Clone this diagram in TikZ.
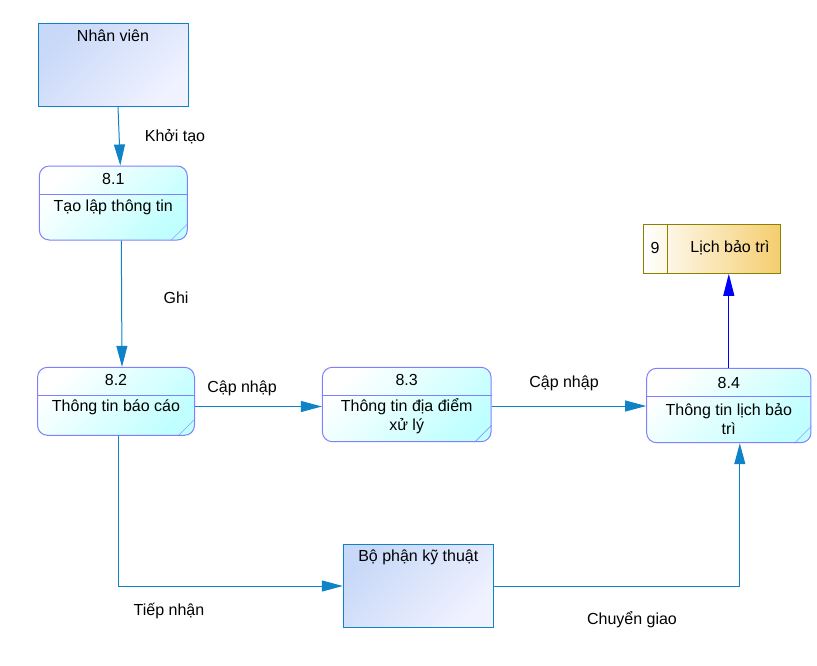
\documentclass[tikz,border=0pt]{standalone}
\usepackage{fontspec}
\setmainfont{Liberation Sans}
\usetikzlibrary{arrows.meta}
\definecolor{flowblue}{RGB}{16,130,200}
\definecolor{procline}{RGB}{128,128,255}
\definecolor{procfill}{RGB}{192,255,255}
\definecolor{enttop}{RGB}{200,216,248}
\definecolor{entbot}{RGB}{240,242,255}
\definecolor{storeline}{RGB}{140,128,0}
\definecolor{storefill}{RGB}{245,205,110}
\tikzset{
  proc/.style={draw=procline, line width=1pt, rounded corners=10pt, top color=white, bottom color=procfill, shading angle=45},
  entity/.style={draw=flowblue, line width=1pt, top color=enttop, bottom color=entbot, shading angle=45},
  store/.style={draw=storeline, line width=1pt, left color=white, right color=storefill},
  flow/.style={flowblue, line width=1pt, -{Triangle[length=21pt,width=11pt]}},
  storeflow/.style={blue, line width=1pt, -{Triangle[length=22pt,width=11pt]}}
}
\begin{document}
\begin{tikzpicture}[x=1pt, y=-1pt, font=\fontsize{16}{19}\selectfont]
        \useasboundingbox (0,0) rectangle (817,665);

        % external entities
        \node[entity, minimum width=150pt, minimum height=83pt] (nv) at (113,65) {};
        \node (nvtext) at (113,36) {Nhân viên};
        \node[entity, minimum width=150pt, minimum height=83pt] (bp) at (418.3,586) {};
        \node (bptext) at (418.3,557) {Bộ phận kỹ thuật};

        % processes
        \node[proc, minimum width=148pt, minimum height=74pt] (n81) at (113.3,203) {};
        \node (n81num) at (113.3,179) {8.1};
        \node (n81txt) at (113.3,207) {Tạo lập thông tin};
        \draw[procline] (n81.west |- 0,194) -- (n81.east |- 0,194);
        \draw[procline] ([xshift=-17pt]n81.south east) -- ([yshift=17pt]n81.south east);

        \node[proc, minimum width=157pt, minimum height=68pt] (n82) at (116,401.3) {};
        \node (n82num) at (116,380) {8.2};
        \node (n82txt) at (116,407.7) {Thông tin báo cáo};
        \draw[procline] (n82.west |- 0,394.7) -- (n82.east |- 0,394.7);
        \draw[procline] ([xshift=-17pt]n82.south east) -- ([yshift=17pt]n82.south east);

        \node[proc, minimum width=168.7pt, minimum height=74.4pt] (n83) at (406.7,404.5) {};
        \node (n83num) at (406.7,380) {8.3};
        \node[align=center] (n83txt) at (406.7,416.5) {Thông tin địa điểm\\xử lý};
        \draw[procline] (n83.west |- 0,394.7) -- (n83.east |- 0,394.7);
        \draw[procline] ([xshift=-17pt]n83.south east) -- ([yshift=17pt]n83.south east);

        \node[proc, minimum width=164.3pt, minimum height=74.4pt] (n84) at (728.8,405.5) {};
        \node (n84num) at (728.8,382.7) {8.4};
        \node[align=center] (n84txt) at (728.8,419) {Thông tin lịch bảo\\trì};
        \draw[procline] (n84.west |- 0,396) -- (n84.east |- 0,396);
        \draw[procline] ([xshift=-17pt]n84.south east) -- ([yshift=17pt]n84.south east);

        % data store
        \node[store, minimum width=136.7pt, minimum height=49pt] (ds9) at (712.3,248.8) {};
        \draw[storeline, line width=1pt] (ds9.north -| 667.3,0) -- (ds9.south -| 667.3,0);
        \node (ds9num) at (655,248) {9};
        \node (ds9txt) at (730,248) {Lịch bảo trì};

        % flows
        \draw[flow] ([xshift=5pt]nv.south) -- ([xshift=7pt]n81.north);
        \draw[flow] ([xshift=8pt]n81.south) -- ([xshift=6pt]n82.north);
        \draw[flow] (n82.east |- 0,406.5) -- (n83.west |- 0,406.5);
        \draw[flow] (n83.east |- 0,406) -- (n84.west |- 0,406);
        \draw[storeflow] (n84.north) -- (n84.north |- ds9.south);
        \draw[flow] ([xshift=2pt]n82.south) |- (bp.west);
        \draw[flow] (bp.east) -| ([xshift=11pt]n84.south);

        % flow labels
        \node (lbkhoitao) at (175,137) {Khởi tạo};
        \node (lbghi) at (176,298) {Ghi};
        \node (lbcapnhap1) at (242,388) {Cập nhập};
        \node (lbcapnhap2) at (564,383) {Cập nhập};
        \node (lbtiepnhan) at (169,611) {Tiếp nhận};
        \node (lbchuyengiao) at (632,620) {Chuyển giao};
\end{tikzpicture}
\end{document}
